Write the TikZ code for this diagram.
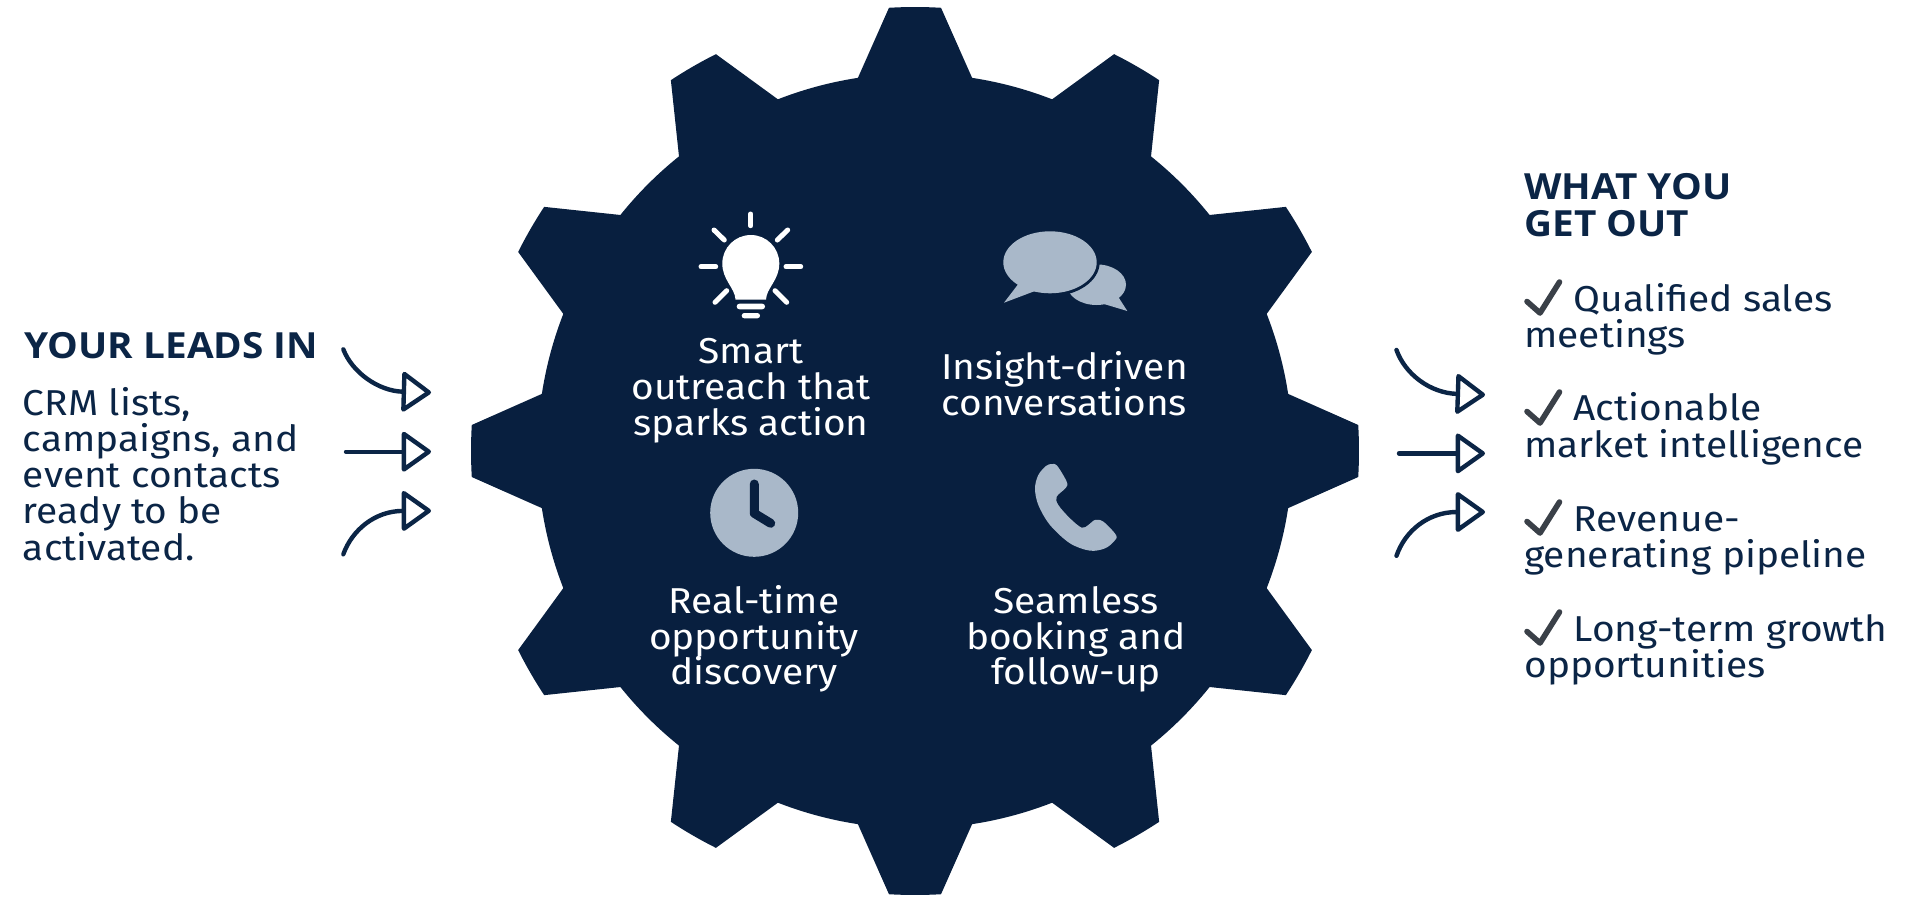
\documentclass[tikz,border=0pt]{standalone}
\usepackage{fontspec}
\setmainfont{Fira Sans}[FakeStretch=1.08]
\newfontfamily\headfont{Open Sans}[FakeStretch=1.075]
\usetikzlibrary{arrows.meta}
\definecolor{navy}{HTML}{081F3F}
\definecolor{inknavy}{HTML}{0B2546}
\definecolor{iconlight}{HTML}{A9B8C9}
\definecolor{checkgrey}{HTML}{3A4048}
\newcommand{\fl}{\rule{0pt}{30pt}}
\tikzset{
  every node/.style={inner sep=0pt,outer sep=0pt},
  bodytext/.style={text=inknavy,anchor=north west,align=left,font=\fontsize{36}{36.3}\selectfont},
  headtext/.style={text=inknavy,anchor=north west,align=left,font=\headfont\fontsize{36}{36.3}\selectfont\bfseries},
  geartext/.style={text=white,anchor=north,align=center,font=\fontsize{36}{35.8}\selectfont},
  flowline/.style={draw=inknavy,line width=4.4pt,line cap=round,-{Triangle[open,round,length=31pt,width=43pt,line width=4.4pt]}},
  checkstroke/.style={draw=checkgrey,line width=5.6pt,line cap=round,line join=round},
  ray/.style={draw=white,line width=5pt,line cap=round},
}
\begin{document}
\begin{tikzpicture}[x=1pt,y=1pt]
\useasboundingbox[fill=white] (0,0) rectangle (1920,-900);
% gear
\begin{scope}[shift={(915,-451)}]
\fill[navy] (-8.7:377.5)
  \foreach \a in {0,30,...,330}{
    -- ({\a-3.36}:444) arc[start angle={\a-3.36},end angle={\a+3.36},radius=444]
    -- ({\a+8.7}:377.5) arc[start angle={\a+8.7},end angle={\a+21.3},radius=377.5]
  } -- cycle;
\end{scope}
% bulb
\draw[ray] (750.7,-214) -- (750.7,-225.7);
\draw[ray] (714,-230) -- (724.3,-240);
\draw[ray] (787.7,-230) -- (777.3,-240);
\draw[ray] (701,-266.7) -- (715.7,-266.7);
\draw[ray] (786,-266.7) -- (800.7,-266.7);
\draw[ray] (715,-302.3) -- (726.7,-290.7);
\draw[ray] (786.7,-302.3) -- (775,-290.7);
\fill[white] (735.5,-299.5) .. controls (735,-288) and (722.3,-280) .. (722.3,-263.5)
  arc[start angle=180,end angle=0,radius=28.5]
  .. controls (779.3,-280) and (766.5,-288) .. (766,-299.5) -- cycle;
\fill[white,rounded corners=2.7pt] (736.7,-303.7) rectangle (765,-309.3);
\fill[white,rounded corners=2.6pt] (741.7,-313) rectangle (760,-318.3);
% chat
\fill[iconlight] (1096.5,-284.7) ellipse[x radius=29.5,y radius=20.3];
\fill[iconlight] (1118.3,-297) -- (1127.3,-311) -- (1104,-304) -- cycle;
\fill[navy] (1050,-262.3) ellipse[x radius=49.7,y radius=34];
\fill[iconlight] (1050,-262.3) ellipse[x radius=46.7,y radius=31];
\fill[iconlight] (1018.3,-284) -- (1004,-302.7) -- (1035,-291) -- cycle;
% clock
\fill[iconlight] (754.2,-512.8) circle[radius=44];
\draw[navy,line width=9pt,line cap=round,line join=round] (754.3,-484) -- (754.3,-513.3) -- (770.7,-523.3);
% phone
\begin{scope}[shift={(1020,-455)},x=0.3333pt,y=-0.3333pt]
\fill[iconlight] plot[smooth cycle,tension=0.55] coordinates {
 (95,27) (112,33) (140,80) (138,98) (110,125) (115,150) (150,190) (185,218)
 (205,210) (225,195) (250,200) (288,240) (283,258) (255,280) (210,287)
 (150,265) (90,210) (55,150) (45,100) (55,60) (78,33)};
\end{scope}
% gear labels
\node[geartext] (smart) at (751,-333.5) {\fl Smart\\outreach that\\sparks action};
\node[geartext] (insight) at (1064.5,-349.7) {\fl Insight-driven\\conversations};
\node[geartext] (realtime) at (754,-583.2) {\fl Real-time\\opportunity\\discovery};
\node[geartext] (seamless) at (1076,-583.2) {\fl Seamless\\booking and\\follow-up};
% left
\node[headtext] (leadshead) at (24.5,-328.3) {\fl YOUR LEADS IN};
\node[bodytext] (leadsbody) at (23,-385) {\fl CRM lists,\\campaigns, and\\event contacts\\ready to be\\activated.};
\coordinate (ls1) at (343.3,-349.3); \coordinate (le1) at (431,-392.5);
\coordinate (ls2) at (346,-451.7);  \coordinate (le2) at (431,-451.7);
\coordinate (ls3) at (343.3,-554.3); \coordinate (le3) at (431,-510.8);
\draw[flowline] (ls1) .. controls (352,-372) and (378,-391) .. (le1);
\draw[flowline] (ls2) -- (le2);
\draw[flowline] (ls3) .. controls (352,-530) and (375,-511) .. (le3);
% right
\coordinate (rs1) at (1396.5,-350); \coordinate (re1) at (1485,-394.8);
\coordinate (rs2) at (1399,-453.4); \coordinate (re2) at (1485,-453.4);
\coordinate (rs3) at (1396.5,-555.8); \coordinate (re3) at (1485,-512);
\draw[flowline] (rs1) .. controls (1405,-374) and (1430,-393) .. (re1);
\draw[flowline] (rs2) -- (re2);
\draw[flowline] (rs3) .. controls (1405,-531) and (1428,-512) .. (re3);
\node[headtext] (outhead) at (1524.5,-169.8) {\fl WHAT YOU\\GET OUT};
\node[bodytext] (q1) at (1524.3,-281.3) {\fl\hspace*{49.3pt}Qualified sales\\meetings};
\node[bodytext] (q2) at (1524.3,-390.8) {\fl\hspace*{49.3pt}Actionable\\market intelligence};
\node[bodytext] (q3) at (1524.3,-501.3) {\fl\hspace*{49.3pt}Revenue-\\generating pipeline};
\node[bodytext] (q4) at (1524.3,-611) {\fl\hspace*{49.3pt}Long-term growth\\opportunities};
\foreach \y in {0,110,220,330}{
  \draw[checkstroke] (1527,{-301.5-\y}) -- (1540,{-313-\y}) -- (1559.5,{-282-\y});
}
\end{tikzpicture}
\end{document}
